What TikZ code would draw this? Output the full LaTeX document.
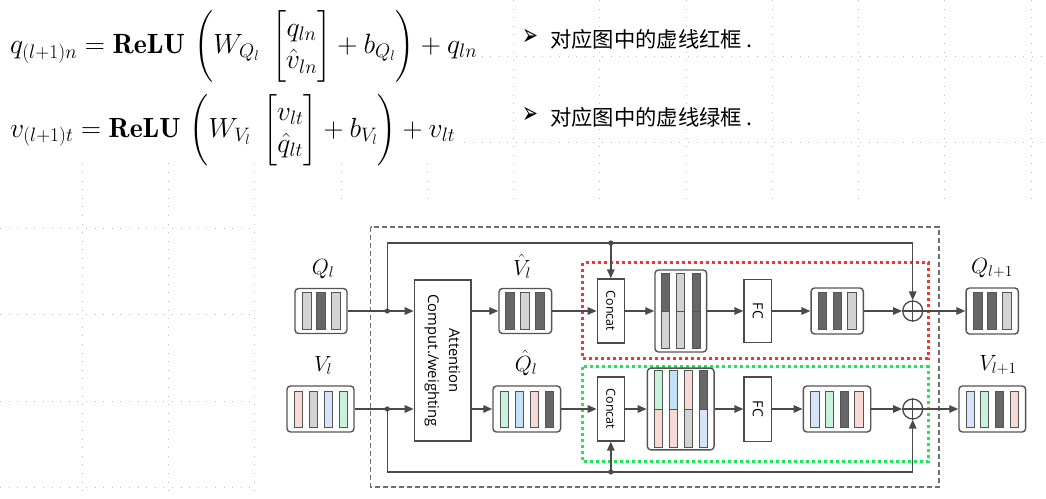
\RequirePackage{fix-cm}
\documentclass[tikz,border=0pt]{standalone}
\usepackage{amsmath}
\usepackage{graphicx}
\usepackage{fontspec}
\newfontfamily\cjk{Noto Sans CJK SC}
\newfontfamily\dejavu{DejaVu Sans}
\newfontfamily\diagsans{Open Sans}
\usetikzlibrary{arrows.meta,calc}

\definecolor{lgray}{HTML}{D3D3D3}
\definecolor{dgray}{HTML}{676767}
\definecolor{cpink}{HTML}{F8D9D5}
\definecolor{cblue}{HTML}{D5E4FA}
\definecolor{csky}{HTML}{C3E2F8}
\definecolor{cgreen}{HTML}{C8F2DA}
\definecolor{lineg}{HTML}{4A4A4A}
\definecolor{boxc}{HTML}{555555}
\definecolor{redbox}{HTML}{FF3030}
\definecolor{greenbox}{HTML}{19EC52}
\definecolor{gridc}{HTML}{BABABA}
\definecolor{outerc}{HTML}{707070}

\newcommand\barset[6]{%
  \foreach \col [count=\i] in {#6}{%
    \filldraw[barline, fill=\col] ($(#1.center)+({(\i-(#2+1)/2)*#3-#4/2},{-#5/2})$) rectangle ++(#4,#5);
  }}
\newcommand\splitbars[6]{%
  \foreach \ct/\cb [count=\i] in {#6}{%
    \coordinate (tmp) at ($(#1.center)+({(\i-(#2+1)/2)*#3-#4/2},{-#5/2})$);
    \filldraw[barline, fill=\ct] (tmp) rectangle ++(#4,#5/2);
    \filldraw[barline, fill=\cb] ($(tmp)+(0,#5/2)$) rectangle ++(#4,#5/2);
  }}

\begin{document}
\begin{tikzpicture}[x=1pt,y=-1pt,
  barline/.style={draw=boxc, line width=0.9pt},
  vbox/.style={draw=boxc, line width=1.4pt, rounded corners=3.5pt, fill=white, inner sep=0pt},
  opbox/.style={draw=lineg, line width=1.3pt, fill=white, inner sep=0pt},
  plusnode/.style={circle, draw=lineg, line width=1.3pt, fill=white, minimum size=20pt, inner sep=0pt},
  conn/.style={draw=lineg, line width=1.4pt},
  arr/.style={conn, -{Triangle[length=9pt,width=7.5pt]}},
  griddot/.style={draw=gridc, line width=0.9pt, dash pattern=on 0.9pt off 7.7pt},
  mlabel/.style={font=\fontsize{22}{26}\selectfont, inner sep=0pt, anchor=base},
  sanslbl/.style={font=\diagsans\fontsize{12.5}{14}\selectfont},
  fclbl/.style={font=\diagsans\fontsize{14}{16}\selectfont},
  eqnode/.style={anchor=base west, inner sep=0pt, font=\fontsize{29}{34}\selectfont},
  bulletnode/.style={font=\dejavu\fontsize{19}{22}\selectfont, inner sep=0pt},
  cjktext/.style={anchor=west, inner sep=1pt, fill=white, font=\cjk\fontsize{21.3}{24}\selectfont},
]
\useasboundingbox (0,0) rectangle (1046,498);
\fill[white] (0,0) rectangle (1046,498);

% background grid
\foreach \k in {0,...,11}{\pgfmathsetmacro\gx{82.3+86.25*\k}\draw[griddot] (\gx,0) -- (\gx,498);}
\foreach \k in {0,...,5}{\pgfmathsetmacro\gy{56+86.3*\k}\draw[griddot] (0,\gy) -- (1046,\gy);}
\fill[white] (0,0) rectangle (480,79);
\fill[white] (0,86) rectangle (462,157);
\fill[white] (258,78) rectangle (462,87);
\fill[white] (258,205) rectangle (1046,498);

% equations
\node[eqnode] (eq1) at (10,53)
  {\resizebox{467pt}{!}{$\displaystyle q_{(l+1)n} = \mathbf{ReLU}\,\left(W_{Q_l}\;\begin{bmatrix} q_{ln}\\ \hat{v}_{ln}\end{bmatrix} + b_{Q_l}\right) + q_{ln}$}};
\node[eqnode] (eq2) at (10,137)
  {\resizebox{445pt}{!}{$\displaystyle v_{(l+1)t} = \mathbf{ReLU}\,\left(W_{V_l}\;\begin{bmatrix} v_{lt}\\ \hat{q}_{lt}\end{bmatrix} + b_{V_l}\right) + v_{lt}$}};

% bullet texts
\node[bulletnode] (b1) at (530,37) {\scalebox{1}[1.6]{➢}};
\node[bulletnode] (b2) at (530,115) {\scalebox{1}[1.6]{➢}};
\node[cjktext] (t1) at (549,39) {对应图中的虚线红框 .};
\node[cjktext] (t2) at (549,117) {对应图中的虚线绿框 .};

% frames
\draw[outerc, line width=1.2pt, dash pattern=on 5pt off 3pt] (370.7,227) rectangle (939,487);
\draw[redbox, line width=3pt, dash pattern=on 3pt off 3pt] (582.7,262.7) rectangle (928,358.3);
\draw[greenbox, line width=3pt, dash pattern=on 3pt off 3pt] (582.7,366.7) rectangle (928,461.7);

% nodes
\node[vbox, minimum width=52pt, minimum height=45pt] (qin) at (321,311) {};
\node[vbox, minimum width=67pt, minimum height=46pt] (vin) at (320.5,409) {};
\node[opbox, minimum width=56.7pt, minimum height=161pt] (att) at (442.7,360.5)
  {\rotatebox[origin=c]{-90}{\diagsans\fontsize{14.8}{21}\selectfont\begin{tabular}{@{}c@{}}Attention\\Comput./weighting\end{tabular}}};
\node[vbox, minimum width=52.7pt, minimum height=45pt] (vhat) at (525.3,311) {};
\node[vbox, minimum width=67.7pt, minimum height=46pt] (qhat) at (526.8,409) {};
\node[opbox, minimum width=27pt, minimum height=64pt, sanslbl] (cc1) at (610.8,311) {\rotatebox[origin=c]{-90}{Concat}};
\node[opbox, minimum width=27pt, minimum height=64pt, sanslbl] (cc2) at (610.8,409) {\rotatebox[origin=c]{-90}{Concat}};
\node[vbox, minimum width=51.7pt, minimum height=82pt] (cat1) at (680.8,311) {};
\node[vbox, minimum width=66.7pt, minimum height=81.7pt] (cat2) at (680.7,409) {};
\node[opbox, minimum width=27.7pt, minimum height=63.5pt, fclbl] (fc1) at (757.8,311) {\rotatebox[origin=c]{-90}{FC}};
\node[opbox, minimum width=27.7pt, minimum height=64.3pt, fclbl] (fc2) at (757.8,409) {\rotatebox[origin=c]{-90}{FC}};
\node[vbox, minimum width=52.3pt, minimum height=46pt] (o1) at (837.2,311) {};
\node[vbox, minimum width=67.4pt, minimum height=46pt] (o2) at (837,409) {};
\node[plusnode] (p1) at (912.7,311) {};
\node[plusnode] (p2) at (912.7,409) {};
\node[vbox, minimum width=52.3pt, minimum height=46pt] (qout) at (992.2,311) {};
\node[vbox, minimum width=66.7pt, minimum height=46pt] (vout) at (992.3,409) {};

% plus signs
\draw[lineg, line width=1.2pt] (p1.north) -- (p1.south) (p1.west) -- (p1.east);
\draw[lineg, line width=1.2pt] (p2.north) -- (p2.south) (p2.west) -- (p2.east);

% bars
\barset{qin}{3}{14.5}{9}{37}{lgray,dgray,lgray}
\barset{vin}{4}{15}{8}{36}{cpink,lgray,cblue,cgreen}
\barset{vhat}{3}{15}{9}{37}{dgray,lgray,dgray}
\barset{qhat}{4}{15}{8}{36}{cgreen,csky,cpink,dgray}
\splitbars{cat1}{3}{15.35}{8}{75.3}{dgray/lgray,lgray/lgray,dgray/dgray}
\splitbars{cat2}{4}{15}{7.7}{76.6}{cgreen/cpink,csky/cpink,cpink/lgray,dgray/cblue}
\barset{o1}{3}{14.8}{8.5}{37}{dgray,dgray,lgray}
\barset{o2}{4}{14.8}{8.6}{36}{cblue,cgreen,dgray,cpink}
\barset{qout}{3}{14.7}{9}{37}{dgray,dgray,lgray}
\barset{vout}{4}{14.8}{8}{36}{cblue,cgreen,dgray,cpink}

% labels
\node[mlabel] (lq) at (323,274) {$Q_l$};
\node[mlabel] (lv) at (323,371.5) {$V_l$};
\node[mlabel] (lvh) at (522,275) {$\hat{V}_l$};
\node[mlabel] (lqh) at (526,371.5) {$\hat{Q}_l$};
\node[mlabel] (lqo) at (992,273) {$Q_{l+1}$};
\node[mlabel] (lvo) at (998,370.5) {$V_{l+1}$};

% connectors
\coordinate (jq) at (387.3,311);
\coordinate (jv) at (387.3,409);
\coordinate (topy) at (0,243);
\coordinate (boty) at (0,472);
\draw[arr] (qin.east) -- (qin.east -| att.west);
\draw[arr] (vin.east) -- (vin.east -| att.west);
\draw[arr] (jq) |- (p1 |- topy) -- (p1.north);
\draw[arr] (jv) |- (p2 |- boty) -- (p2.south);
\draw[arr] (cc1 |- topy) -- (cc1.north);
\draw[arr] (cc2 |- boty) -- (cc2.south);
\fill[lineg] (jq) circle (2.6pt);
\fill[lineg] (jv) circle (2.6pt);
\fill[lineg] (cc1 |- topy) circle (2.6pt);
\fill[lineg] (cc2 |- boty) circle (2.6pt);
\draw[arr] (att.east |- vhat) -- (vhat.west);
\draw[arr] (att.east |- qhat) -- (qhat.west);
\draw[arr] (vhat.east) -- (cc1.west);
\draw[arr] (qhat.east) -- (cc2.west);
\draw[arr] (cc1.east) -- (cat1.west);
\draw[arr] (cc2.east) -- (cat2.west);
\draw[arr] (cat1.east) -- (fc1.west);
\draw[arr] (cat2.east) -- (fc2.west);
\draw[arr] (fc1.east) -- (o1.west);
\draw[arr] (fc2.east) -- (o2.west);
\draw[arr] (o1.east) -- (p1.west);
\draw[arr] (o2.east) -- (p2.west);
\draw[arr] (p1.east) -- (qout.west);
\draw[arr] (p2.east) -- (vout.west);
\end{tikzpicture}
\end{document}
